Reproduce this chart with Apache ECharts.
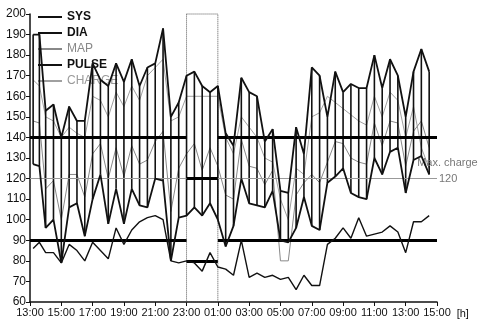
<!DOCTYPE html>
<html><head><meta charset="utf-8">
<script src="https://cdn.jsdelivr.net/npm/echarts@6/dist/echarts.min.js"></script>
<style>html,body{margin:0;padding:0;background:#fff}#c{width:488px;height:327px}</style>
</head><body><div id="c"></div>
<script>
// measurement times: hours after 13:00
const times = [0.2,0.6,1.0,1.5,2.0,2.5,3.0,3.5,4.0,4.5,5.0,5.5,6.0,6.5,7.0,7.5,8.0,8.5,9.0,9.5,
  10.0,10.5,11.0,11.5,12.0,12.5,13.0,13.5,14.0,14.5,15.0,15.5,16.0,16.5,17.0,17.5,18.0,18.5,19.0,19.5,
  20.0,20.5,21.0,21.5,22.0,22.5,23.0,23.5,24.0,24.5,25.0,25.5];
const sys = [190,190,153,156,140,155,148,148,176,168, 165,176,167,178,165,174,176,193,150,157,
  170,172,165,162,165,142,136,169,162,160, 138,144,114,113,145,132,174,170,150,172,
  162,166,164,164,180,164,178,170,150,172, 183,172];
const dia = [127,126,96,100,79,106,108,92,110,122, 98,115,98,115,107,106,120,119,80,101,
  102,106,102,108,100,87,97,120,108,107, 106,114,90,89,96,111,97,95,118,121,
  125,113,111,110,130,122,133,135,113,129, 131,122];
const map = [148,147,115,119,100,122,122,111,132,137, 120,135,121,136,127,129,138,143,104,125,
  132,137,124,135,126,112,110,139,126,125, 117,124,80,80,112,118,122,118,128,138,
  137,130,128,127,147,136,148,147,126,143, 148,135];
const pulse = [86,89,84,84,79,88,85,80,89,85, 81,96,88,95,99,101,102,100,80,79,
  80,79,75,84,77,76,73,90,72,74, 72,73,71,72,66,73,68,68,88,91,
  96,91,101,92,93,94,97,94,84,99, 99,102];
const charge = [168,165,150,148,140,145,142,140,160,158, 150,162,155,165,158,170,174,178,148,150,
  160,160,160,160,160,140,132,150,145,140, 130,128,110,100,125,122,150,152,160,157,
  154,151,148,146,160,150,162,158,140,155, 135,125];
const tickLabels = ['13:00','15:00','17:00','19:00','21:00','23:00','01:00','03:00','05:00','07:00','09:00','11:00','13:00','15:00'];
const dayLimits = [140, 90];
const nightLimits = [120, 80];
const maxCharge = 120;
const nightStart = 10, nightEnd = 12, axisEnd = 26;
const yMin = 60, yMax = 200;

const FONT = '"Liberation Sans","Arimo",sans-serif';
const zip = (ys) => times.map((t, i) => [t, ys[i]]);

const limitSegs = [];
dayLimits.forEach(v => {
  limitSegs.push([{coord: [0, v]}, {coord: [nightStart, v]}]);
  limitSegs.push([{coord: [nightEnd, v]}, {coord: [axisEnd, v]}]);
});
nightLimits.forEach(v => limitSegs.push([{coord: [nightStart, v]}, {coord: [nightEnd, v]}]));

const chart = echarts.init(document.getElementById('c'));
chart.setOption({
  backgroundColor: '#fff',
  animation: false,
  textStyle: {fontFamily: FONT},
  grid: {left: 30, right: 51, top: 14, bottom: 25},
  legend: {
    orient: 'vertical', left: 33, top: 5, icon: 'rect', itemWidth: 24, itemHeight: 2, itemGap: 2,
    textStyle: {fontFamily: FONT, fontSize: 12, fontWeight: 'bold', color: '#111', lineHeight: 14},
    data: [
      {name: 'SYS'}, {name: 'DIA'},
      {name: 'MAP', textStyle: {color: '#888', fontWeight: 'normal'}},
      {name: 'PULSE'},
      {name: 'CHARGE', textStyle: {color: '#9a9a9a', fontWeight: 'normal'}}
    ]
  },
  xAxis: {
    type: 'value', min: 0, max: axisEnd, interval: 2,
    name: '[h]', nameLocation: 'end', nameGap: 14,
    nameTextStyle: {color: '#111', fontSize: 11, fontFamily: FONT, verticalAlign: 'top', padding: [6,0,0,0]},
    splitLine: {show: false},
    axisLine: {lineStyle: {color: '#111', width: 1.5}},
    axisTick: {length: 4, lineStyle: {color: '#111'}},
    axisLabel: {color: '#111', fontSize: 11, margin: 5, fontFamily: FONT,
      formatter: v => tickLabels[Math.round(v / 2)]}
  },
  yAxis: {
    type: 'value', min: yMin, max: yMax, interval: 10,
    splitLine: {show: false},
    axisLine: {show: true, lineStyle: {color: '#111', width: 1.5}},
    axisTick: {show: true, length: 4, lineStyle: {color: '#111'}},
    axisLabel: {color: '#111', fontSize: 12, margin: 4, fontFamily: FONT}
  },
  series: [
    {name: 'CHARGE', type: 'line', data: zip(charge), symbol: 'none', z: 2,
      lineStyle: {color: '#a0a0a0', width: 1}, itemStyle: {color: '#a0a0a0'},
      markArea: {silent: true, itemStyle: {color: 'rgba(0,0,0,0)', borderColor: '#555', borderWidth: 1, borderType: 'dotted'},
        data: [[{coord: [nightStart, yMax]}, {coord: [nightEnd, yMin]}]]},
      markLine: {silent: true, symbol: 'none', animation: false,
        lineStyle: {color: '#999', width: 1, type: 'solid'},
        label: {show: true, position: 'end', formatter: String(maxCharge), color: '#777', fontSize: 11, fontFamily: FONT, distance: 2},
        data: [[{coord: [0, maxCharge]}, {coord: [axisEnd, maxCharge]}]]},
      markPoint: {silent: true, symbol: 'rect', symbolSize: 1, itemStyle: {color: 'rgba(0,0,0,0)'},
        data: [{coord: [24.7, 127.5], value: 0}],
        label: {show: true, formatter: 'Max. charge', color: '#777', fontSize: 11, fontFamily: FONT, position: 'right', distance: 0}}
    },
    {name: 'MAP', type: 'line', data: zip(map), symbol: 'none', z: 3,
      lineStyle: {color: '#888', width: 1}, itemStyle: {color: '#888'}},
    {name: 'bars', type: 'custom', z: 4,
      data: times.map((t, i) => [t, dia[i], sys[i]]),
      renderItem: (params, api) => {
        const a = api.coord([api.value(0), api.value(1)]);
        const b = api.coord([api.value(0), api.value(2)]);
        return {type: 'line', shape: {x1: a[0], y1: a[1], x2: b[0], y2: b[1]},
          style: {stroke: '#111', lineWidth: 1.6}};
      }},
    {name: 'SYS', type: 'line', data: zip(sys), symbol: 'none', z: 5,
      lineStyle: {color: '#111', width: 1.8}, itemStyle: {color: '#111'}},
    {name: 'DIA', type: 'line', data: zip(dia), symbol: 'none', z: 5,
      lineStyle: {color: '#111', width: 1.8}, itemStyle: {color: '#111'}},
    {name: 'PULSE', type: 'line', data: zip(pulse), symbol: 'none', z: 5,
      lineStyle: {color: '#111', width: 1.4}, itemStyle: {color: '#111'},
      markLine: {silent: true, symbol: 'none', animation: false,
        lineStyle: {color: '#000', width: 3, type: 'solid'}, label: {show: false},
        data: limitSegs}}
  ]
});
</script></body></html>
